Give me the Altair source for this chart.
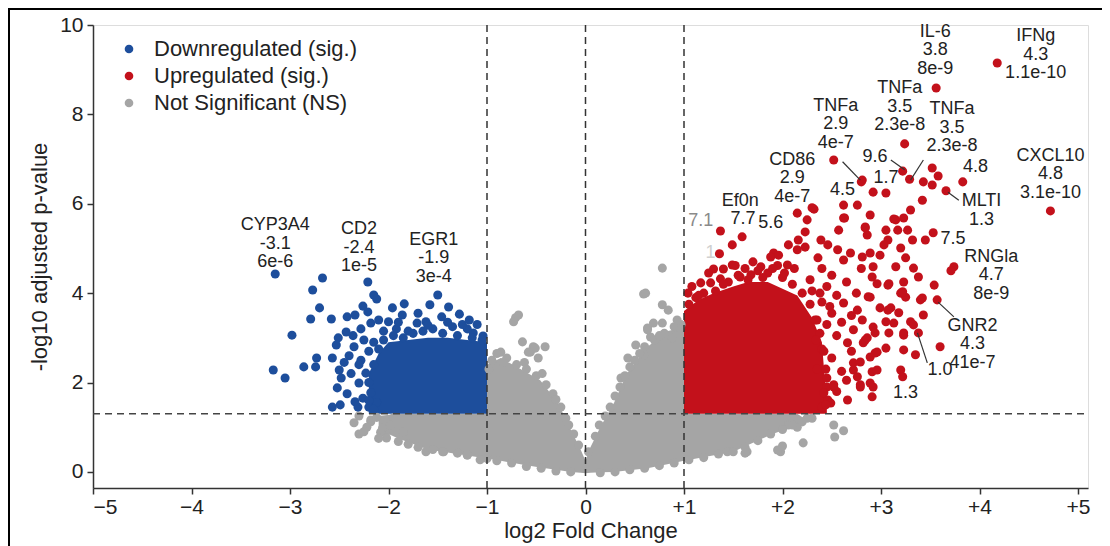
import altair as alt
import pandas as pd

FONT = "Liberation Sans"

# ---------------- data (log2FC, -log10 adj p) ----------------
# dense cores (filled bands): x, upper edge, lower edge
ns_band_x = [-2.1, -1.9, -1.6, -1.001, -1.0, -0.86, -0.66, -0.46, -0.28, -0.15, -0.05, 0.0, 0.05, 0.15, 0.29, 0.42, 0.63, 0.83, 1.0, 1.001, 1.5, 1.9, 2.15, 2.25]
ns_band_top = [1.25, 1.3, 1.3, 1.3, 2.4, 2.55, 2.3, 2.05, 1.55, 0.95, 0.5, 0.25, 0.55, 1.0, 1.55, 2.2, 2.8, 3.15, 3.25, 1.3, 1.3, 1.3, 1.3, 1.15]
ns_band_bottom = [0.95, 0.75, 0.5, 0.3, 0.3, 0.25, 0.17, 0.1, 0.04, 0.0, -0.02, -0.03, -0.02, -0.01, 0.0, 0.03, 0.08, 0.17, 0.25, 0.25, 0.45, 0.85, 1.05, 1.12]

down_band_x = [-2.2, -2.1, -2.0, -1.8, -1.6, -1.4, -1.2, -1.0]
down_band_top = [2.2, 2.65, 2.9, 2.95, 3.0, 3.0, 2.95, 2.9]

up_band_x = [1.0, 1.15, 1.3, 1.5, 1.65, 1.85, 2.0, 2.15, 2.3, 2.4, 2.45]
up_band_top = [3.6, 3.85, 4.0, 4.15, 4.25, 4.25, 4.1, 3.95, 3.45, 2.9, 1.5]

# individual genes
ns_points = [
    (-0.71, 3.45), (-0.73, 3.36), (-0.64, 2.91), (-0.53, 2.80), (-0.56, 2.68), (-0.41, 2.80), (-0.48, 2.55),
    (-0.86, 2.68), (0.59, 3.98), (0.78, 3.74), (0.84, 3.62), (0.96, 3.22), (0.63, 3.22), (0.69, 3.33),
    (0.51, 2.84), (0.59, 2.62), (0.43, 2.55), (0.36, 2.10), (0.66, 3.02), (0.78, 3.33), (0.78, 4.56),
    (0.61, 4.00), (0.63, 3.18), (-0.68, 3.51), (-0.51, 2.77), (-0.58, 2.68),
    (-2.03, 0.87), (-2.06, 0.98), (-1.85, 0.89), (-2.18, 1.12), (-2.18, 1.16), (-2.08, 0.89), (-2.02, 0.76),
    (-1.95, 1.21), (-1.62, 0.45), (-1.44, 0.45), (-1.20, 0.38), (-1.07, 0.27),
    (1.98, 0.45), (1.64, 0.45), (1.44, 0.45), (1.62, 0.42), (1.95, 0.49), (2.0, 0.58), (2.21, 0.65),
    (2.52, 1.05), (2.62, 0.92), (2.53, 0.78), (2.06, 1.05), (2.15, 1.0),
    (-0.95, 2.5), (-0.9, 2.65), (-0.8, 2.55), (-0.7, 2.4), (-0.6, 2.3), (-0.5, 2.15), (-0.4, 1.95),
    (-0.33, 1.75), (-0.25, 1.45), (-0.2, 1.2), (-0.12, 0.85), (-0.07, 0.6), (0.03, 0.45), (0.1, 0.8),
    (0.2, 1.25), (0.25, 1.45), (0.35, 1.9), (0.45, 2.35), (0.55, 2.65), (0.7, 2.95), (0.8, 3.1),
    (0.9, 3.25), (0.97, 3.3),
    (-0.98, 2.3), (-0.84, 2.45), (-0.62, 2.45), (-0.44, 2.2), (-0.3, 1.62), (-0.17, 1.05), (0.14, 1.05),
    (0.3, 1.7), (0.4, 2.15), (0.5, 2.5), (0.6, 2.8), (0.75, 3.05), (0.88, 3.0), (0.93, 3.4),
    (-2.3, 0.85), (-2.1, 0.75), (-1.9, 0.68), (-1.7, 0.55), (-1.45, 0.45), (-1.2, 0.38), (-0.9, 0.25),
    (-0.6, 0.12), (-0.3, 0.02), (0.3, 0.0), (0.6, 0.08), (0.9, 0.2), (1.2, 0.32), (1.5, 0.45),
    (1.75, 0.7), (2.0, 0.95), (2.2, 1.12), (-2.35, 1.1), (-2.3, 1.25), (2.3, 1.2),
    (-1.8, 0.62), (-1.55, 0.5), (-1.3, 0.42), (-1.0, 0.3), (-0.75, 0.2), (-0.45, 0.08), (-0.15, 0.0),
    (0.15, -0.02), (0.45, 0.05), (0.75, 0.14), (1.05, 0.27), (1.35, 0.4), (1.62, 0.55), (1.88, 0.85),
    (2.1, 1.05), (2.25, 1.2), (-2.22, 1.0), (-2.12, 1.22), (-2.25, 0.9), (-1.98, 1.05),
]

down_points = [
    (-3.15, 4.43), (-2.67, 4.34), (-2.77, 4.07), (-2.70, 3.67), (-2.79, 3.42), (-2.58, 3.42), (-2.98, 3.06),
    (-3.17, 2.28), (-3.05, 2.10), (-2.86, 2.35), (-2.73, 2.55), (-2.74, 2.35), (-2.57, 2.55), (-2.53, 2.84),
    (-2.51, 3.00), (-2.43, 3.13), (-2.42, 3.47), (-2.34, 3.51), (-2.26, 3.71), (-2.21, 4.25), (-2.15, 3.96),
    (-2.12, 3.87), (-2.21, 3.58), (-2.18, 3.33), (-2.10, 3.40), (-1.96, 3.67), (-1.84, 3.76), (-1.86, 3.51),
    (-2.00, 3.36), (-1.50, 3.96), (-1.58, 3.74), (-1.39, 3.69), (-1.28, 3.53), (-1.46, 3.47), (-1.71, 3.33),
    (-1.62, 3.36), (-1.14, 3.11), (-1.04, 3.04), (-2.50, 2.28), (-2.48, 2.10), (-2.52, 1.88), (-2.30, 1.99),
    (-2.57, 1.45), (-2.49, 1.50), (-2.34, 1.57), (-2.31, 1.45), (-2.20, 1.45), (-2.18, 1.77), (-2.23, 2.21),
    (-2.40, 2.60), (-2.35, 2.80), (-2.28, 2.50), (-2.25, 2.95), (-2.38, 2.20), (-2.30, 2.40), (-2.20, 2.70),
    (-2.15, 2.90), (-2.42, 1.75), (-2.26, 1.65), (-2.12, 1.55), (-2.36, 3.05), (-2.05, 3.15), (-1.92, 3.20),
    (-1.80, 3.15), (-1.55, 3.20), (-1.35, 3.25), (-1.20, 3.20), (-1.10, 3.30), (-1.70, 3.55), (-1.25, 3.30),
    (-2.10, 2.75), (-2.05, 2.95), (-1.95, 3.05), (-1.85, 3.00), (-1.75, 3.10), (-1.65, 3.15), (-1.45, 3.10),
    (-1.30, 3.05), (-1.15, 3.00), (-1.05, 2.95), (-2.15, 2.40), (-2.20, 2.00), (-2.20, 1.60), (-2.15, 1.40),
    (-1.90, 3.35), (-1.60, 3.28), (-1.40, 3.35), (-1.18, 3.40), (-2.28, 3.20), (-2.45, 2.45),
]

up_points = [
    (1.37, 5.39), (1.59, 5.26), (1.49, 5.08), (1.36, 4.88), (1.30, 4.54), (1.40, 4.54), (1.49, 4.63),
    (1.17, 4.23), (1.27, 4.23), (1.37, 4.32), (1.57, 4.36), (1.68, 4.41), (1.04, 4.00), (2.15, 5.79),
    (2.32, 5.88), (2.25, 5.64), (2.23, 5.37), (2.16, 5.19), (2.06, 5.08), (1.91, 4.90), (2.15, 4.97),
    (2.23, 5.03), (2.05, 4.63), (1.88, 4.81), (2.36, 4.79), (2.39, 5.19), (2.46, 5.08), (2.62, 5.97),
    (2.76, 5.97), (2.81, 6.53), (2.92, 6.26), (2.62, 5.68), (2.89, 5.75), (2.57, 5.41), (2.84, 5.48),
    (2.86, 5.30), (2.56, 4.97), (2.69, 4.90), (2.81, 4.81), (2.89, 4.90), (2.62, 4.74), (2.91, 4.36),
    (2.92, 4.59), (2.87, 3.92), (2.62, 3.78), (2.76, 3.62), (2.81, 3.40), (2.72, 3.18), (2.92, 3.24),
    (2.66, 2.89), (2.82, 2.89), (2.89, 2.57), (2.72, 2.44), (2.89, 1.99), (2.66, 1.61), (2.91, 1.68),
    (2.52, 1.90), (2.46, 1.61), (1.78, 4.59), (1.96, 4.85),
    (3.56, 8.59), (4.18, 9.15), (3.24, 7.34), (2.52, 6.98), (2.80, 6.49), (3.22, 6.73), (3.29, 6.55),
    (3.52, 6.80), (3.58, 6.62), (3.43, 6.49), (3.52, 6.42), (3.83, 6.49), (3.66, 6.29), (3.05, 6.24),
    (3.42, 6.08), (3.30, 5.86), (3.23, 5.68), (3.15, 5.64), (2.30, 5.91), (2.63, 5.68), (4.72, 5.84),
    (3.53, 5.35), (3.45, 5.19), (3.74, 4.59), (3.71, 4.50), (3.05, 5.41), (3.17, 5.41), (3.07, 5.19),
    (3.13, 5.66), (3.27, 5.41), (3.32, 5.19), (3.20, 5.01), (3.03, 5.08), (2.84, 5.46), (3.25, 4.79),
    (2.99, 4.85), (3.15, 4.59), (3.33, 4.56), (3.38, 4.36), (3.23, 4.25), (3.08, 4.21), (2.96, 4.21),
    (3.54, 4.18), (3.20, 4.00), (3.25, 3.91), (2.89, 3.91), (3.40, 3.85), (3.57, 3.85), (3.43, 3.51),
    (2.99, 3.67), (3.10, 3.67), (3.18, 3.56), (3.30, 3.36), (3.33, 3.29), (3.13, 3.33), (3.38, 3.11),
    (3.23, 3.11), (3.08, 3.11), (3.60, 2.80), (3.23, 2.73), (3.35, 2.62), (3.05, 2.77), (2.94, 2.66),
    (3.20, 2.28), (3.22, 2.13), (2.91, 2.24), (2.92, 1.90), (2.84, 2.95),
    (3.42, 3.89), (3.23, 3.06), (3.07, 4.18), (3.22, 4.03), (3.07, 3.62), (3.05, 3.36), (2.94, 3.11),
    (2.86, 3.00), (2.96, 2.68), (2.79, 2.46), (2.72, 2.28), (2.79, 1.95), (2.49, 1.54), (2.96, 2.28),
    (2.76, 2.13),
    (2.40, 4.55), (2.50, 4.40), (2.45, 4.15), (2.55, 3.95), (2.40, 3.80), (2.50, 3.55), (2.60, 3.35),
    (2.45, 3.30), (2.55, 3.05), (2.40, 2.75), (2.50, 2.55), (2.60, 2.25), (2.45, 2.10), (2.55, 1.80),
    (2.40, 1.45), (2.35, 2.30), (2.65, 2.05), (2.70, 3.50), (2.75, 4.00), (2.65, 4.25), (2.80, 4.55),
    (2.70, 2.70), (2.35, 3.40), (2.38, 4.00),
    (1.05, 3.75), (1.12, 3.90), (1.20, 4.00), (1.45, 4.25), (1.55, 4.40), (1.75, 4.50), (1.85, 4.45),
    (2.00, 4.35), (2.10, 4.20), (2.20, 4.00), (2.28, 3.75), (2.33, 3.40), (2.38, 3.10), (2.42, 2.70),
    (2.44, 2.30), (2.45, 1.90), (2.44, 1.50), (2.52, 1.95), (2.79, 1.90), (2.42, 1.77),
    (1.08, 4.15), (1.25, 4.45), (1.52, 4.62), (1.70, 4.70), (1.95, 4.62), (2.12, 4.55), (2.28, 4.30),
    (1.15, 3.95), (1.62, 4.55), (2.30, 4.05), (2.48, 3.70), (2.34, 2.95),
    (1.80, 4.35), (1.90, 4.55), (1.65, 4.30), (1.40, 4.20), (2.02, 4.45), (1.32, 4.05),
]

groups = ["Downregulated (sig.)", "Upregulated (sig.)", "Not Significant (NS)"]
group_colors = ["#1d4e9c", "#c3111b", "#a5a5a5"]

# gene annotations (multi-line labels use "\n"; y is the first line)
ann_text = ["CYP3A4\n-3.1\n6e-6", "CD2\n-2.4\n1e-5", "EGR1\n-1.9\n3e-4",
            "Ef0n", "7.1", "7.7", "5.6", "1", "CD86\n2.9\n4e-7", "TNFa\n2.9\n4e-7",
            "TNFa\n3.5\n2.3e-8", "TNFa\n3.5\n2.3e-8", "IL-6\n3.8\n8e-9", "IFNg\n4.3\n1.1e-10",
            "9.6", "1.7", "4.5", "4.8", "MLTI\n1.3", "CXCL10\n4.8\n3.1e-10", "7.5",
            "RNGla\n4.7\n8e-9", "GNR2\n4.3\n41e-7", "1.0", "1.3"]
ann_x = [-3.15, -2.30, -1.54,
         1.57, 1.17, 1.60, 1.88, 1.27, 2.10, 2.54,
         3.19, 3.72, 3.55, 4.57,
         2.94, 3.05, 2.61, 3.96, 4.02, 4.72, 3.73,
         4.12, 3.93, 3.60, 3.25]
ann_y = [5.52, 5.43, 5.19,
         6.07, 5.62, 5.66, 5.57, 4.90, 6.98, 8.19,
         8.58, 8.12, 9.85, 9.75,
         7.04, 6.58, 6.31, 6.82, 6.06, 7.07, 5.21,
         4.81, 3.27, 2.28, 1.77]
ann_color = ["#222222"] * len(ann_text)
ann_color[4] = "#8a8a8a"
ann_color[7] = "#d0d0d0"

# leader lines
lead_x1 = [2.61, 3.10, 3.43, 3.68, 3.58, 3.37]
lead_y1 = [6.94, 6.98, 6.98, 6.26, 3.80, 3.11]
lead_x2 = [2.79, 3.24, 3.30, 3.79, 3.74, 3.47]
lead_y2 = [6.53, 6.76, 6.53, 6.08, 3.47, 2.44]

fc_cutoffs = [-1, 0, 1]
p_cutoff = 1.301
x_ticks = [-5, -4, -3, -2, -1, 0, 1, 2, 3, 4, 5]
y_ticks = [0, 2, 4, 6, 8, 10]

# ---------------- tables ----------------
pts = pd.DataFrame(
    [(x, y, groups[2]) for x, y in ns_points]
    + [(x, y, groups[0]) for x, y in down_points]
    + [(x, y, groups[1]) for x, y in up_points],
    columns=["x", "y", "group"],
)
ns_band = pd.DataFrame({"x": ns_band_x, "top": ns_band_top, "bottom": ns_band_bottom})
down_band = pd.DataFrame({"x": down_band_x, "top": down_band_top, "bottom": [p_cutoff] * len(down_band_x)})
up_band = pd.DataFrame({"x": up_band_x, "top": up_band_top, "bottom": [p_cutoff] * len(up_band_x)})
ann = pd.DataFrame({"x": ann_x, "y": ann_y, "t": ann_text, "c": ann_color})
leads = pd.DataFrame({"x": lead_x1, "y": lead_y1, "x2": lead_x2, "y2": lead_y2})
vlines = pd.DataFrame({"x": fc_cutoffs, "y": [-0.36] * 3, "y2": [10.05] * 3})
hline = pd.DataFrame({"x": [-5], "x2": [5.1], "y": [p_cutoff]})
one = pd.DataFrame({"a": [0]})

# ---------------- scales & axes ----------------
xs = alt.Scale(domain=[-5, 5.1015], nice=False, zero=False)
ys = alt.Scale(domain=[-0.36, 10], nice=False, zero=False)
xaxis = alt.Axis(values=x_ticks,
                 labelExpr="datum.value > 0 ? '+' + datum.value : (datum.value < 0 ? '\u2212' + abs(datum.value) : '0')",
                 grid=False, labelFont=FONT, labelFontSize=21, labelColor="#222",
                 titleFont=FONT, titleFontSize=22, titleFontWeight="normal", titleColor="#222",
                 domainColor="#333", domainWidth=1.5, tickColor="#333", tickWidth=1.5, tickSize=6,
                 labelPadding=2, titlePadding=3)
yaxis = alt.Axis(values=y_ticks, grid=False, labelFont=FONT, labelFontSize=21, labelColor="#222",
                 titleFont=FONT, titleFontSize=22, titleFontWeight="normal", titleColor="#222",
                 domainColor="#333", domainWidth=1.5, tickColor="#333", tickWidth=1.5, tickSize=6,
                 labelPadding=4, titlePadding=8)


def X(f):
    return alt.X(f"{f}:Q", scale=xs, axis=xaxis, title="log2 Fold Change")


def Y(f):
    return alt.Y(f"{f}:Q", scale=ys, axis=yaxis, title="-log10 adjusted p-value")


ns_area = alt.Chart(ns_band).mark_area(color=group_colors[2], opacity=1).encode(
    x=X("x"), y=Y("top"), y2="bottom:Q")
down_area = alt.Chart(down_band).mark_area(color=group_colors[0], opacity=1).encode(
    x=X("x"), y=Y("top"), y2="bottom:Q")
up_area = alt.Chart(up_band).mark_area(color=group_colors[1], opacity=1).encode(
    x=X("x"), y=Y("top"), y2="bottom:Q")

points = alt.Chart(pts).mark_circle(size=82, opacity=1).encode(
    x=X("x"), y=Y("y"),
    color=alt.Color("group:N", scale=alt.Scale(domain=groups, range=group_colors),
                    legend=alt.Legend(title=None, orient="none", legendX=25, legendY=13,
                                      symbolType="circle", symbolSize=75, symbolStrokeWidth=0,
                                      labelFont=FONT, labelFontSize=22, labelColor="#222",
                                      labelLimit=0, labelOffset=14, rowPadding=5, padding=0)),
)

vrules = alt.Chart(vlines).mark_rule(color="#333", strokeWidth=1.5, strokeDash=[7, 5]).encode(
    x=X("x"), y=Y("y"), y2="y2:Q")
hrule = alt.Chart(hline).mark_rule(color="#444", strokeWidth=1.5, strokeDash=[7, 5]).encode(
    x=X("x"), x2="x2:Q", y=Y("y"))

lead_lines = alt.Chart(leads).mark_rule(color="#333", strokeWidth=1.2).encode(
    x=X("x"), y=Y("y"), x2="x2:Q", y2="y2:Q")

labels = alt.Chart(ann).mark_text(font=FONT, fontSize=18, align="center", baseline="middle",
                                  lineBreak="\n", lineHeight=18.5).encode(
    x=X("x"), y=Y("y"), text="t:N", color=alt.Color("c:N", scale=None))

frame_left = alt.Chart(one).mark_rule(color="#000", strokeWidth=2).encode(
    x=alt.value(-84), y=alt.value(-17), y2=alt.value(540))
frame_top = alt.Chart(one).mark_rule(color="#000", strokeWidth=2).encode(
    x=alt.value(-85), x2=alt.value(1020), y=alt.value(-16))

chart = alt.layer(
    ns_area, down_area, up_area, points, vrules, hrule, lead_lines, labels, frame_left, frame_top
).properties(
    width=995, height=463,
    padding={"left": 85, "top": 17, "right": 14, "bottom": 58},
    autosize=alt.AutoSizeParams(type="none"),
).configure_view(stroke=None).configure(font=FONT)

chart.save("out.html", embed_options={"renderer": "svg", "actions": False})
